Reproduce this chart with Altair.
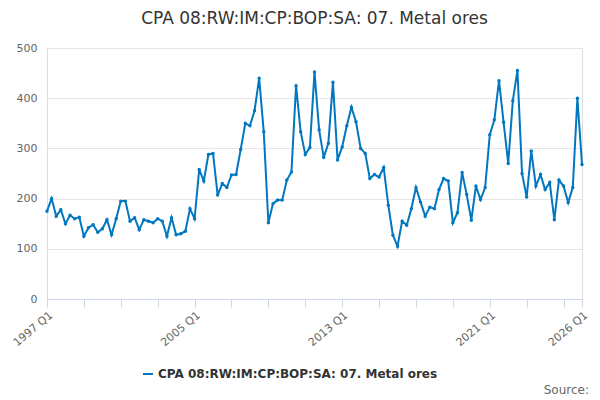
import altair as alt
import pandas as pd

SERIES = "CPA 08:RW:IM:CP:BOP:SA: 07. Metal ores"
START_YEAR = 1997
VALUES = [
    175, 200, 165, 178, 150, 167, 160, 163, 125, 142, 148, 133, 140, 158, 128, 160,
    195, 195, 155, 162, 138, 158, 155, 152, 160, 155, 125, 162, 128, 130, 135, 180,
    160, 258, 235, 288, 290, 207, 230, 222, 247, 248, 298, 350, 345, 375, 440, 333,
    152, 190, 197, 197, 237, 253, 425, 333, 288, 302, 452, 337, 282, 310, 432, 277,
    303, 345, 382, 353, 300, 290, 240, 248, 243, 262, 187, 127, 105, 155, 147, 180,
    222, 193, 165, 183, 180, 218, 240, 235, 152, 172, 252, 208, 157, 225, 198, 222,
    327, 357, 435, 352, 270, 395, 455, 250, 203, 295, 225, 248, 218, 232, 158, 237,
    225, 192, 222, 400, 268,
]
LABELLED = [0, 32, 64, 96, 116]

df = pd.DataFrame({
    "i": range(len(VALUES)),
    "value": VALUES,
    "series": SERIES,
})
df["period"] = [f"{START_YEAR + i // 4} Q{i % 4 + 1}" for i in df["i"]]

tick_vals = list(range(0, 117, 8)) + [116]
label_expr = (
    "indexof([" + ",".join(str(v) for v in LABELLED) + "], datum.value) >= 0 ? "
    f"(floor(datum.value / 4) + {START_YEAR}) + ' Q' + (datum.value % 4 + 1) : ''"
)

chart = (
    alt.Chart(df)
    .mark_line(point=alt.OverlayMarkDef(size=12, filled=True), strokeWidth=2)
    .encode(
        x=alt.X("i:Q", title=None, scale=alt.Scale(domain=[0, 116], nice=False),
                axis=alt.Axis(values=tick_vals, labelExpr=label_expr, labelAngle=-40,
                              grid=False, domainColor="#ccd6eb", tickColor="#ccd6eb",
                              tickSize=8, labelColor="#666666", labelFontSize=11,
                              labelOverlap=False)),
        y=alt.Y("value:Q", title=None, scale=alt.Scale(domain=[0, 500]),
                axis=alt.Axis(values=[0, 100, 200, 300, 400, 500], domain=False, ticks=False,
                              gridColor="#e6e6e6", labelColor="#666666", labelFontSize=11,
                              labelPadding=10)),
        color=alt.Color("series:N", scale=alt.Scale(range=["#0077c0"]),
                        legend=alt.Legend(title=None, orient="none", legendX=95, legendY=320,
                                          labelFontSize=12, labelFontWeight="bold",
                                          labelColor="#333333", symbolType="stroke",
                                          symbolStrokeWidth=2, labelLimit=400)),
        tooltip=["period:N", "value:Q"],
    )
)

source = alt.Chart(pd.DataFrame({"t": ["Source:"]})).mark_text(
    align="right", fontSize=12, color="#666666"
).encode(text="t:N", x=alt.value(542), y=alt.value(342))

final = (
    alt.layer(chart, source)
    .properties(
        width=535, height=251,
        padding={"left": 2, "right": 0, "top": 2, "bottom": 0},
        title=alt.Title(SERIES, fontSize=17, fontWeight="normal", color="#333333",
                        anchor="middle", offset=14),
    )
    .configure_view(stroke=None)
    .configure(font="DejaVu Sans")
)
final.save("out.html", embed_options={"renderer": "svg", "actions": False})
